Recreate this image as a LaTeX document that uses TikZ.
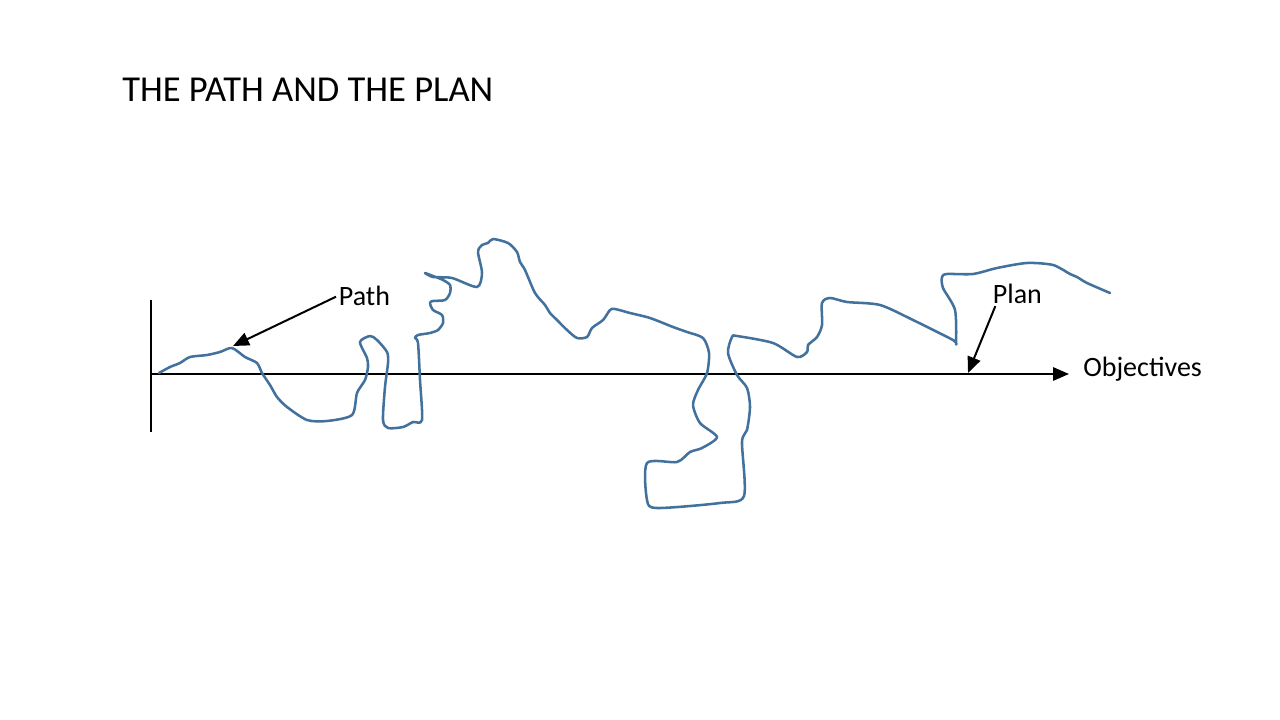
\documentclass[tikz,border=0pt]{standalone}
\usepackage{fontspec}
\setmainfont{Carlito}
\usepackage{xcolor}
\usetikzlibrary{arrows.meta, positioning, calc}

\definecolor{pathblue}{RGB}{65,113,156}

\begin{document}
\begin{tikzpicture}[
    x=0.75pt, y=-0.75pt,
    % Text styles
    titletext/.style={font=\fontsize{27.4}{30}\selectfont, inner sep=0pt, anchor=base west},
    label/.style={font=\fontsize{21}{24}\selectfont, inner sep=2pt, anchor=base west},
    % Line styles
    axisline/.style={draw=black, line width=1.5pt},
    pointer/.style={-{Triangle[length=12pt, width=10pt]}, line width=1.5pt},
    wander/.style={draw=pathblue, line width=1.9pt, line join=round, line cap=round}
]

% Page frame
\useasboundingbox (0,0) rectangle (1280,720);

% Title
\node[titletext] (title) at (122,102) {THE PATH AND THE PLAN};

% Axes
\coordinate (origin) at (151,374);
\coordinate (axis_top) at (151,300);
\coordinate (axis_bottom) at (151,432);
\coordinate (axis_end) at (1069,374);
\draw[axisline] (axis_top) -- (axis_bottom);
\draw[axisline, pointer] (origin) -- (axis_end);

% The wandering path
\draw[wander] plot[smooth, tension=0.45] coordinates {
    (159,373) (170,367) (180,363) (190,357) (207,355) (220,352) (232,348)
    (245,357) (257,363) (262,373) (270,385) (277,397) (287,407) (307,420)
    (327,421) (352,415) (357,393) (365,380) (368,367) (367,358) (360,342)
    (370,336) (377,340) (387,352) (388,363) (385,387) (383,420) (388,428)
    (403,427) (413,422) (422,420) (420,380) (418,343) (415,338) (418,335)
    (430,333) (438,330) (443,323) (442,315) (433,310) (430,303) (433,301)
    (445,300) (450,293) (450,285) (443,280) (433,276) (425,273) (433,277)
    (452,278) (477,287) (482,273) (478,252) (482,245) (488,243) (493,239)
    (508,243) (517,252) (520,262) (525,270) (535,293) (545,305) (550,313)
    (557,320) (567,330) (577,338) (587,337) (592,328) (603,320) (610,310)
    (615,309) (630,313) (650,318) (673,327) (687,332) (703,338) (709,353)
    (707,373) (698,390) (693,405) (700,423) (717,437) (702,448) (690,452)
    (677,462) (647,463) (647,500) (657,508) (720,503) (744,496) (742,442)
    (747,430) (750,407) (747,388) (737,375) (728,353) (732,337) (737,336)
    (773,343) (797,357) (807,352) (808,345) (817,337) (822,325) (822,303)
    (830,298) (847,302) (880,305) (913,320) (953,340) (956,343) (955,310)
    (943,288) (942,277) (947,274) (973,274) (997,268) (1027,263) (1053,265)
    (1070,274) (1077,277) (1087,283) (1110,293)
};

% Labels
\node[label] (path_label) at (336,305) {Path};
\node[label] (plan_label) at (990,303) {Plan};
\node[label, inner sep=0pt] (objectives) at (1083,376) {Objectives};

% Pointers
\coordinate (path_tip) at (233,346);
\coordinate (plan_tip) at (968,373);
\draw[pointer] ([yshift=-1pt]path_label.west) -- (path_tip);
\draw[pointer] ([xshift=4pt]plan_label.south west) -- (plan_tip);

\end{tikzpicture}
\end{document}
